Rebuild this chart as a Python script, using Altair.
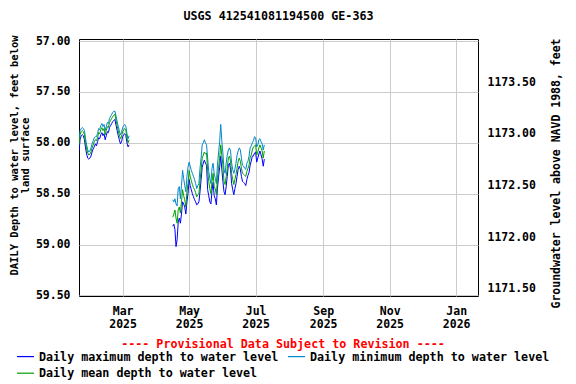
import altair as alt
import pandas as pd

FONT = "DejaVu Sans Mono"

title_text = "USGS 412541081194500 GE-363"
left_title = ["DAILY Depth to water level, feet below", "land surface"]
right_title = "Groundwater level above NAVD 1988, feet"
provisional = "---- Provisional Data Subject to Revision ----"

series_names = [
    "Daily maximum depth to water level",
    "Daily minimum depth to water level",
    "Daily mean depth to water level",
]
series_colors = ["#0000ff", "#0088cc", "#00a000"]
legend_order = [series_names[0], series_names[2], series_names[1]]

seg1_start = "2025-01-20"
seg1_max = [58.08, 57.97, 57.93, 57.92, 57.93, 57.97, 58.05, 58.11, 58.15, 58.16,
            58.15, 58.13, 58.09, 58.06, 58.04, 58.01, 58.03, 57.99, 57.95, 57.96,
            57.92, 57.90, 57.93, 57.91, 57.97, 57.93, 57.89, 57.90, 57.85, 57.83,
            57.81, 57.79, 57.78, 57.77, 57.83, 57.88, 57.93, 57.97, 58.01, 57.99,
            57.94, 57.92, 57.91, 57.93, 58.00, 58.04, 58.02]
seg1_min = [57.97, 57.88, 57.86, 57.85, 57.86, 57.88, 57.96, 58.02, 58.07, 58.09,
            58.08, 58.05, 58.01, 57.98, 57.95, 57.94, 57.94, 57.91, 57.86, 57.87,
            57.83, 57.81, 57.84, 57.82, 57.88, 57.84, 57.80, 57.81, 57.76, 57.74,
            57.72, 57.70, 57.69, 57.69, 57.74, 57.79, 57.84, 57.88, 57.92, 57.90,
            57.85, 57.83, 57.82, 57.84, 57.91, 57.96, 57.93]
seg1_mean = [58.02, 57.92, 57.89, 57.88, 57.89, 57.92, 58.00, 58.06, 58.10, 58.12,
             58.11, 58.09, 58.05, 58.02, 57.99, 57.97, 57.98, 57.95, 57.90, 57.91,
             57.87, 57.85, 57.88, 57.86, 57.92, 57.88, 57.84, 57.85, 57.80, 57.78,
             57.76, 57.74, 57.73, 57.72, 57.78, 57.83, 57.88, 57.92, 57.96, 57.94,
             57.89, 57.87, 57.86, 57.88, 57.95, 58.00, 57.97]

seg2_start = "2025-04-16"
seg2_max = [58.82, 58.80, 58.85, 59.02, 58.95, 58.78, 58.74, 58.79, 58.70, 58.58,
            58.60, 58.63, 58.70, 58.58, 58.50, 58.36, 58.42, 58.46, 58.50, 58.53,
            58.56, 58.58, 58.61, 58.60, 58.58, 58.48, 58.36, 58.24, 58.20, 58.17,
            58.20, 58.22, 58.46, 58.52, 58.58, 58.60, 58.47, 58.39, 58.52, 58.55,
            58.61, 58.45, 58.34, 58.24, 58.13, 58.26, 58.38, 58.48, 58.51, 58.43,
            58.33, 58.22, 58.20, 58.26, 58.40, 58.46, 58.51, 58.45, 58.40, 58.33,
            58.26, 58.23, 58.26, 58.33, 58.38, 58.39, 58.40, 58.42, 58.36, 58.32,
            58.29, 58.22, 58.18, 58.13, 58.13, 58.10, 58.09, 58.19, 58.15, 58.11,
            58.08, 58.12, 58.16, 58.23, 58.16]
seg2_min = [58.56, 58.58, 58.55, 58.60, 58.62, 58.45, 58.43, 58.55, 58.42, 58.27,
            58.35, 58.42, 58.48, 58.33, 58.24, 58.19, 58.23, 58.27, 58.30, 58.33,
            58.36, 58.40, 58.45, 58.42, 58.40, 58.25, 58.15, 58.02, 58.00, 57.97,
            58.00, 58.02, 58.15, 58.28, 58.35, 58.40, 58.25, 58.20, 58.30, 58.35,
            58.40, 58.22, 58.10, 57.99, 57.82, 57.98, 58.10, 58.26, 58.30, 58.20,
            58.12, 58.07, 58.05, 58.08, 58.20, 58.26, 58.30, 58.26, 58.20, 58.12,
            58.08, 58.05, 58.07, 58.15, 58.22, 58.23, 58.25, 58.26, 58.20, 58.18,
            58.13, 58.05, 58.03, 58.00, 57.98, 57.94, 57.95, 58.04, 58.02, 57.97,
            57.96, 57.99, 58.01, 58.07, 58.02]
seg2_mean = [58.73, 58.70, 58.66, 58.74, 58.79, 58.66, 58.63, 58.69, 58.58, 58.46,
             58.52, 58.56, 58.63, 58.48, 58.40, 58.27, 58.33, 58.37, 58.41, 58.44,
             58.46, 58.49, 58.53, 58.51, 58.50, 58.38, 58.27, 58.15, 58.12, 58.09,
             58.11, 58.10, 58.27, 58.38, 58.45, 58.50, 58.38, 58.30, 58.43, 58.45,
             58.51, 58.35, 58.25, 58.15, 58.02, 58.12, 58.22, 58.38, 58.41, 58.33,
             58.25, 58.15, 58.13, 58.18, 58.30, 58.36, 58.41, 58.36, 58.31, 58.25,
             58.18, 58.15, 58.18, 58.25, 58.30, 58.31, 58.32, 58.33, 58.28, 58.25,
             58.22, 58.14, 58.12, 58.07, 58.04, 58.03, 58.02, 58.12, 58.09, 58.05,
             58.02, 58.05, 58.08, 58.15, 58.08]

depth_ticks = [57.0, 57.5, 58.0, 58.5, 59.0, 59.5]
elev_ticks = [1171.5, 1172.0, 1172.5, 1173.0, 1173.5]
depth_domain = [56.98, 59.505]
elev_domain = [1171.432, 1173.919]
month_ticks = [(2025, 3), (2025, 5), (2025, 7), (2025, 9), (2025, 11), (2026, 1)]
x_domain = [(2025, 1, 20), (2026, 1, 21)]

rows = []
for seg, start, mx, mn, me in [(1, seg1_start, seg1_max, seg1_min, seg1_mean),
                               (2, seg2_start, seg2_max, seg2_min, seg2_mean)]:
    dates = pd.date_range(start, periods=len(me), freq="D")
    for d, a, b, c in zip(dates, mx, mn, me):
        ds = d.strftime("%Y-%m-%d")
        rows.append({"date": ds, "seg": seg, "series": series_names[0], "depth": a})
        rows.append({"date": ds, "seg": seg, "series": series_names[1], "depth": b})
        rows.append({"date": ds, "seg": seg, "series": series_names[2], "depth": c})
df = pd.DataFrame(rows)

x_scale = alt.Scale(
    type="utc",
    domain=[alt.DateTime(year=y, month=m, date=d, utc=True) for (y, m, d) in x_domain],
)
x_axis = alt.Axis(
    values=[alt.DateTime(year=y, month=m, date=1, utc=True) for (y, m) in month_ticks],
    labelExpr="[utcFormat(datum.value, '%b'), utcFormat(datum.value, '%Y')]",
    grid=True,
    title=None,
    labelPadding=9,
    labelLineHeight=13,
)
y_scale = alt.Scale(domain=depth_domain, reverse=True, nice=False, zero=False)
y_axis = alt.Axis(values=depth_ticks, format=".2f", grid=True, title=left_title,
                  titleFontSize=10.5, titleLineHeight=11, titleY=116,
                  titlePadding=5, labelPadding=9, orient="left")
color = alt.Color(
    "series:N",
    scale=alt.Scale(domain=series_names, range=series_colors),
    legend=alt.Legend(
        title=provisional,
        values=legend_order,
        orient="none",
        legendX=-63,
        legendY=300,
        columns=2,
        columnPadding=6,
        rowPadding=0,
        symbolType="stroke",
        symbolSize=289,
        symbolStrokeWidth=1.2,
        labelOffset=4,
        labelLimit=400,
        titleLimit=600,
        titleColor="#ff0000",
        titleAnchor="middle",
        titlePadding=-4,
        titleFontSize=11.7,
        labelFontSize=11.7,
    ),
)

base = alt.Chart(df)
layers = []
for name in series_names:
    layers.append(
        base.transform_filter(alt.datum.series == name)
        .mark_line(strokeWidth=1, clip=True)
        .encode(
            x=alt.X("date:T", scale=x_scale, axis=x_axis),
            y=alt.Y("depth:Q", scale=y_scale, axis=y_axis),
            color=color,
            detail="seg:N",
        )
    )
depth_layer = alt.layer(*layers)

elev = base.transform_filter(
    alt.datum.series == series_names[2]
).transform_calculate(
    elev="1230.909 - datum.depth"
).mark_line(strokeOpacity=0, clip=True).encode(
    x=alt.X("date:T", scale=x_scale, axis=x_axis),
    y=alt.Y(
        "elev:Q",
        scale=alt.Scale(domain=elev_domain, nice=False, zero=False),
        axis=alt.Axis(values=elev_ticks, format=".2f", grid=False, title=right_title,
                      orient="right", titleAngle=270, titleBaseline="top",
                      titleY=134, titlePadding=15, labelPadding=9),
    ),
    detail="seg:N",
)

chart = alt.layer(depth_layer, elev).resolve_scale(y="independent").properties(
    width=399,
    height=257,
    autosize=alt.AutoSizeParams(type="none"),
    padding={"left": 71, "top": 31, "right": 90, "bottom": 86},
    title=alt.TitleParams(title_text, font=FONT, fontSize=11.7, fontWeight="bold",
                          anchor="middle", offset=12, color="black"),
).configure_view(
    stroke="black", strokeWidth=1
).configure_axis(
    labelFont=FONT, titleFont=FONT, labelFontSize=11.5, titleFontSize=11.5,
    labelFontWeight="bold", titleFontWeight="bold", labelColor="black",
    titleColor="black", domain=False, tickSize=0, gridColor="#cccccc", gridWidth=1,
).configure_legend(
    labelFont=FONT, titleFont=FONT, labelFontWeight="bold", titleFontWeight="bold",
    labelColor="black",
)

chart.save("out.html", embed_options={"renderer": "svg", "actions": False})
